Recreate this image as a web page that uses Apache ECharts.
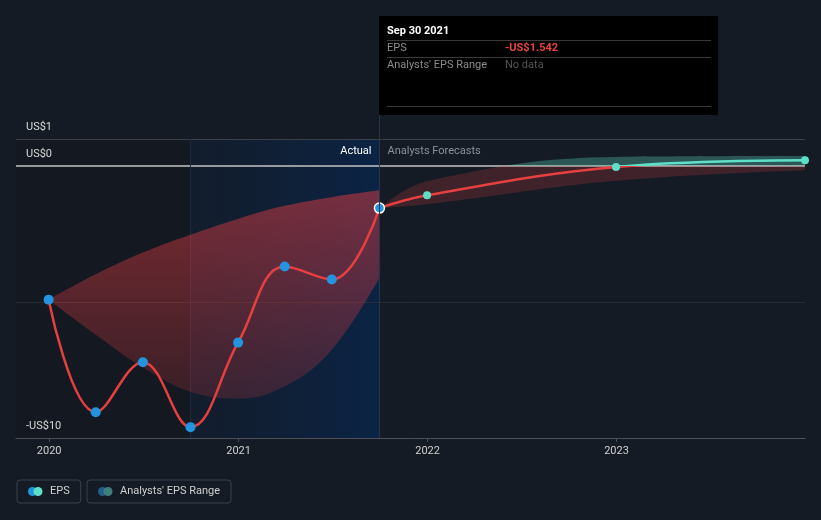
<!DOCTYPE html>
<html>
<head>
<meta charset="utf-8">
<script src="https://cdn.jsdelivr.net/npm/echarts@6/dist/echarts.min.js"></script>
<style>
  html, body { margin: 0; padding: 0; background: #151b24; }
  #chart { width: 821px; height: 520px; }
</style>
</head>
<body>
<div id="chart"></div>
<script>
// reported EPS, quarter ends
const actualDates = ['2019-12-31', '2020-03-31', '2020-06-30', '2020-09-30', '2020-12-31', '2021-03-31', '2021-06-30', '2021-09-30'];
const actualEps = [-4.91, -9.05, -7.21, -9.6, -6.49, -3.69, -4.17, -1.542];
// shaded range behind the reported values
const actualRangeLow = [-4.91, -6.2, -7.4, -8.3, -8.55, -8.1, -6.75, -4.1];
const actualRangeHigh = [-4.91, -3.98, -3.18, -2.52, -1.94, -1.46, -1.14, -0.89];

// analyst forecasts
const forecastDates = ['2021-09-30', '2021-12-31', '2022-12-31', '2023-12-31'];
const forecastEps = [-1.542, -1.07, -0.03, 0.22];
const forecastLow = [-1.542, -1.4, -0.54, -0.15];
const forecastHigh = [-1.542, -0.55, 0.34, 0.37];

const yLabelValues = [1, 0, -10];
const yLabelTexts = ['US$1', 'US$0', '-US$10'];
const gridValues = [1, -5];
const axisMin = '2019-10-29';
const axisMax = '2023-12-31';
const lastYearStart = '2020-09-30';
const lastYearEnd = '2021-09-30';

const RED = '#e5403f';
const TEAL = '#5ee0c8';
const BLUE = '#2394df';
const FONT = 'Roboto, sans-serif';
const monthNames = ['Jan', 'Feb', 'Mar', 'Apr', 'May', 'Jun', 'Jul', 'Aug', 'Sep', 'Oct', 'Nov', 'Dec'];

const pairs = (dates, vals) => dates.map((d, i) => [d, vals[i]]);
const spans = (dates, lo, hi) => dates.map((d, i) => [d, +(hi[i] - lo[i]).toFixed(3)]);

const svgIcon = (c1, c2) => 'image://data:image/svg+xml;charset=utf-8,' + encodeURIComponent(
  '<svg xmlns="http://www.w3.org/2000/svg" width="17" height="9" viewBox="0 0 17 9">' +
  '<circle cx="4.5" cy="4.5" r="4.5" fill="' + c1 + '"/>' +
  '<circle cx="10" cy="4.5" r="4.5" fill="' + c2 + '"/></svg>');

const chart = echarts.init(document.getElementById('chart'), null, {renderer: 'canvas'});

const legendBase = {
  top: 480,
  orient: 'horizontal',
  selectedMode: false,
  borderColor: '#3a404b',
  borderWidth: 1,
  borderRadius: 3,
  padding: [6, 11, 6, 11],
  itemWidth: 17,
  itemHeight: 9,
  textStyle: {color: '#d0d0d0', fontSize: 11, fontFamily: FONT}
};

const option = {
  backgroundColor: '#151b24',
  animation: false,
  grid: {left: 16, right: 16, top: 139, bottom: 82, containLabel: false, outerBoundsMode: 'none'},
  legend: [
    Object.assign({}, legendBase, {left: 17, data: [{name: 'EPS', icon: svgIcon(BLUE, TEAL)}]}),
    Object.assign({}, legendBase, {left: 87, data: [{name: "Analysts' EPS Range", icon: svgIcon('#245e8a', '#3e7f7a')}]})
  ],
  xAxis: {
    type: 'time',
    min: axisMin,
    max: axisMax,
    minInterval: 365 * 24 * 3600 * 1000,
    axisLine: {onZero: false, lineStyle: {color: '#4b5059', width: 1}},
    axisTick: {show: true, length: 4, lineStyle: {color: '#4b5059'}},
    axisLabel: {color: '#d0d0d0', fontSize: 11, fontFamily: FONT, margin: 8, formatter: '{yyyy}', showMinLabel: false, showMaxLabel: false},
    splitLine: {show: false},
    minorTick: {show: false},
    minorSplitLine: {show: false}
  },
  yAxis: {
    type: 'value',
    min: -10,
    max: 1,
    interval: 1,
    axisLine: {show: false},
    axisTick: {show: false},
    splitLine: {show: false},
    axisLabel: {
      inside: true,
      margin: 10,
      color: '#d8d8d8',
      fontSize: 11,
      fontFamily: FONT,
      verticalAlign: 'bottom',
      padding: [0, 0, 6, 0],
      formatter: v => {
        const i = yLabelValues.indexOf(v);
        return i >= 0 ? yLabelTexts[i] : '';
      }
    }
  },
  series: [
    {
      name: 'actualRangeBase',
      type: 'line',
      stack: 'act',
      stackStrategy: 'all',
      smooth: 0.4,
      symbol: 'none',
      silent: true,
      z: 1,
      lineStyle: {width: 0, opacity: 0},
      data: pairs(actualDates, actualRangeLow),
      markArea: {
        silent: true,
        z: 0,
        data: [
          [{xAxis: axisMin, itemStyle: {color: 'rgba(0,0,0,0.08)'}}, {xAxis: lastYearStart}],
          [{
            xAxis: lastYearStart,
            itemStyle: {
              color: new echarts.graphic.LinearGradient(0, 0, 1, 0, [
                {offset: 0, color: 'rgba(12,34,66,0.25)'},
                {offset: 1, color: 'rgba(10,36,72,0.9)'}
              ])
            }
          }, {xAxis: lastYearEnd}]
        ]
      },
      markLine: {
        silent: true,
        symbol: 'none',
        z: 1,
        label: {show: false},
        data: [
          {yAxis: gridValues[0], lineStyle: {color: '#3a3f48', width: 1, type: 'solid'}},
          {yAxis: gridValues[1], lineStyle: {color: '#262b34', width: 1, type: 'solid'}},
          {yAxis: 0, lineStyle: {color: '#c4c4c4', width: 1.5, type: 'solid'}},
          {xAxis: lastYearStart, lineStyle: {color: '#1e2b3e', width: 1, type: 'solid'}}
        ]
      }
    },
    {
      name: 'actualRangeSpan',
      type: 'line',
      stack: 'act',
      stackStrategy: 'all',
      smooth: 0.4,
      symbol: 'none',
      silent: true,
      z: 2,
      lineStyle: {width: 0, opacity: 0},
      areaStyle: {
        opacity: 1,
        color: new echarts.graphic.LinearGradient(0, 0, 0, 1, [
          {offset: 0, color: 'rgba(215,58,64,0.52)'},
          {offset: 1, color: 'rgba(215,58,64,0.2)'}
        ])
      },
      data: spans(actualDates, actualRangeLow, actualRangeHigh)
    },
    {
      name: 'forecastRangeBase',
      type: 'line',
      stack: 'fc',
      stackStrategy: 'all',
      smooth: 0.4,
      symbol: 'none',
      silent: true,
      z: 2,
      lineStyle: {width: 0, opacity: 0},
      data: pairs(forecastDates, forecastLow)
    },
    {
      name: "Analysts' EPS Range",
      type: 'line',
      stack: 'fc',
      stackStrategy: 'all',
      smooth: 0.4,
      symbol: 'none',
      silent: true,
      z: 2,
      itemStyle: {color: '#3e7f7a'},
      lineStyle: {width: 0, opacity: 0},
      areaStyle: {opacity: 1, color: 'rgba(215,58,64,0.22)'},
      data: spans(forecastDates, forecastLow, forecastHigh)
    },
    {
      name: 'EPS Forecast',
      type: 'line',
      smooth: 0.4,
      z: 5,
      symbol: 'circle',
      symbolSize: 8,
      itemStyle: {color: TEAL},
      lineStyle: {width: 2.5, color: RED},
      data: pairs(forecastDates, forecastEps).map((p, i) => i === 0 ? {value: p, symbol: 'none'} : p)
    },
    {
      name: 'EPS',
      type: 'line',
      smooth: 0.4,
      z: 6,
      symbol: 'circle',
      symbolSize: 10,
      itemStyle: {color: BLUE},
      lineStyle: {width: 2.5, color: RED},
      data: pairs(actualDates, actualEps).map((p, i) => i === actualDates.length - 1
        ? {value: p, itemStyle: {color: BLUE, borderColor: '#ffffff', borderWidth: 1.5}}
        : p)
    }
  ]
};

chart.setOption(option);

// second pass: things that depend on pixel positions of the axes
const px = Math.round(chart.convertToPixel({xAxisIndex: 0}, lastYearEnd)) + 0.5;
const y0 = chart.convertToPixel({yAxisIndex: 0}, 0);
const yBottom = chart.convertToPixel({yAxisIndex: 0}, -10);
const H = 520;
const splitAt = (above, below) => new echarts.graphic.LinearGradient(0, 0, 0, H, [
  {offset: 0, color: above},
  {offset: y0 / H, color: above},
  {offset: y0 / H, color: below},
  {offset: 1, color: below}
], true);

const lastEps = actualEps[actualEps.length - 1];
const d = new Date(lastYearEnd + 'T00:00:00');
const tipDate = monthNames[d.getMonth()] + ' ' + d.getDate() + ' ' + d.getFullYear();
const tipValue = (lastEps < 0 ? '-' : '') + 'US$' + Math.abs(lastEps).toFixed(3);

const tipW = 339, tipH = 99, tipTop = 16;
const txt = (x, y, text, fill, weight) => ({
  type: 'text', x: x, y: y,
  style: {text: text, fill: fill, font: (weight || 'normal') + ' 11px ' + FONT, verticalAlign: 'middle'}
});
const rule = y => ({type: 'line', shape: {x1: 8, y1: y, x2: 332, y2: y}, style: {stroke: '#3a3a3a', lineWidth: 1}});

chart.setOption({
  series: [
    {name: 'actualRangeBase'}, {name: 'actualRangeSpan'}, {name: 'forecastRangeBase'},
    {name: "Analysts' EPS Range", areaStyle: {color: splitAt('rgba(94,224,200,0.3)', 'rgba(215,58,64,0.22)')}},
    {name: 'EPS Forecast', lineStyle: {color: splitAt(TEAL, RED)}},
    {name: 'EPS'}
  ],
  graphic: [
    {type: 'line', z: 10, shape: {x1: px, y1: tipTop + tipH, x2: px, y2: yBottom}, style: {stroke: '#26364d', lineWidth: 1}},
    {type: 'text', z: 10, x: px - 8, y: 151, style: {text: 'Actual', fill: '#ffffff', font: '11px ' + FONT, align: 'right', verticalAlign: 'middle'}},
    {type: 'text', z: 10, x: px + 8, y: 151, style: {text: 'Analysts Forecasts', fill: '#8b9099', font: '11px ' + FONT, align: 'left', verticalAlign: 'middle'}},
    {
      type: 'group', z: 20, x: Math.floor(px), y: tipTop,
      children: [
        {type: 'rect', shape: {x: 0, y: 0, width: tipW, height: tipH}, style: {fill: '#000000'}},
        txt(8, 15, tipDate, '#ffffff', 'bold'),
        rule(24.5),
        txt(8, 32, 'EPS', '#8c8c8c'),
        txt(126, 32, tipValue, '#e8433f', 'bold'),
        rule(41.5),
        txt(8, 49, "Analysts' EPS Range", '#8c8c8c'),
        txt(126, 49, 'No data', '#555555'),
        rule(90.5)
      ]
    }
  ]
});

window.onresize = () => chart.resize();
</script>
</body>
</html>
